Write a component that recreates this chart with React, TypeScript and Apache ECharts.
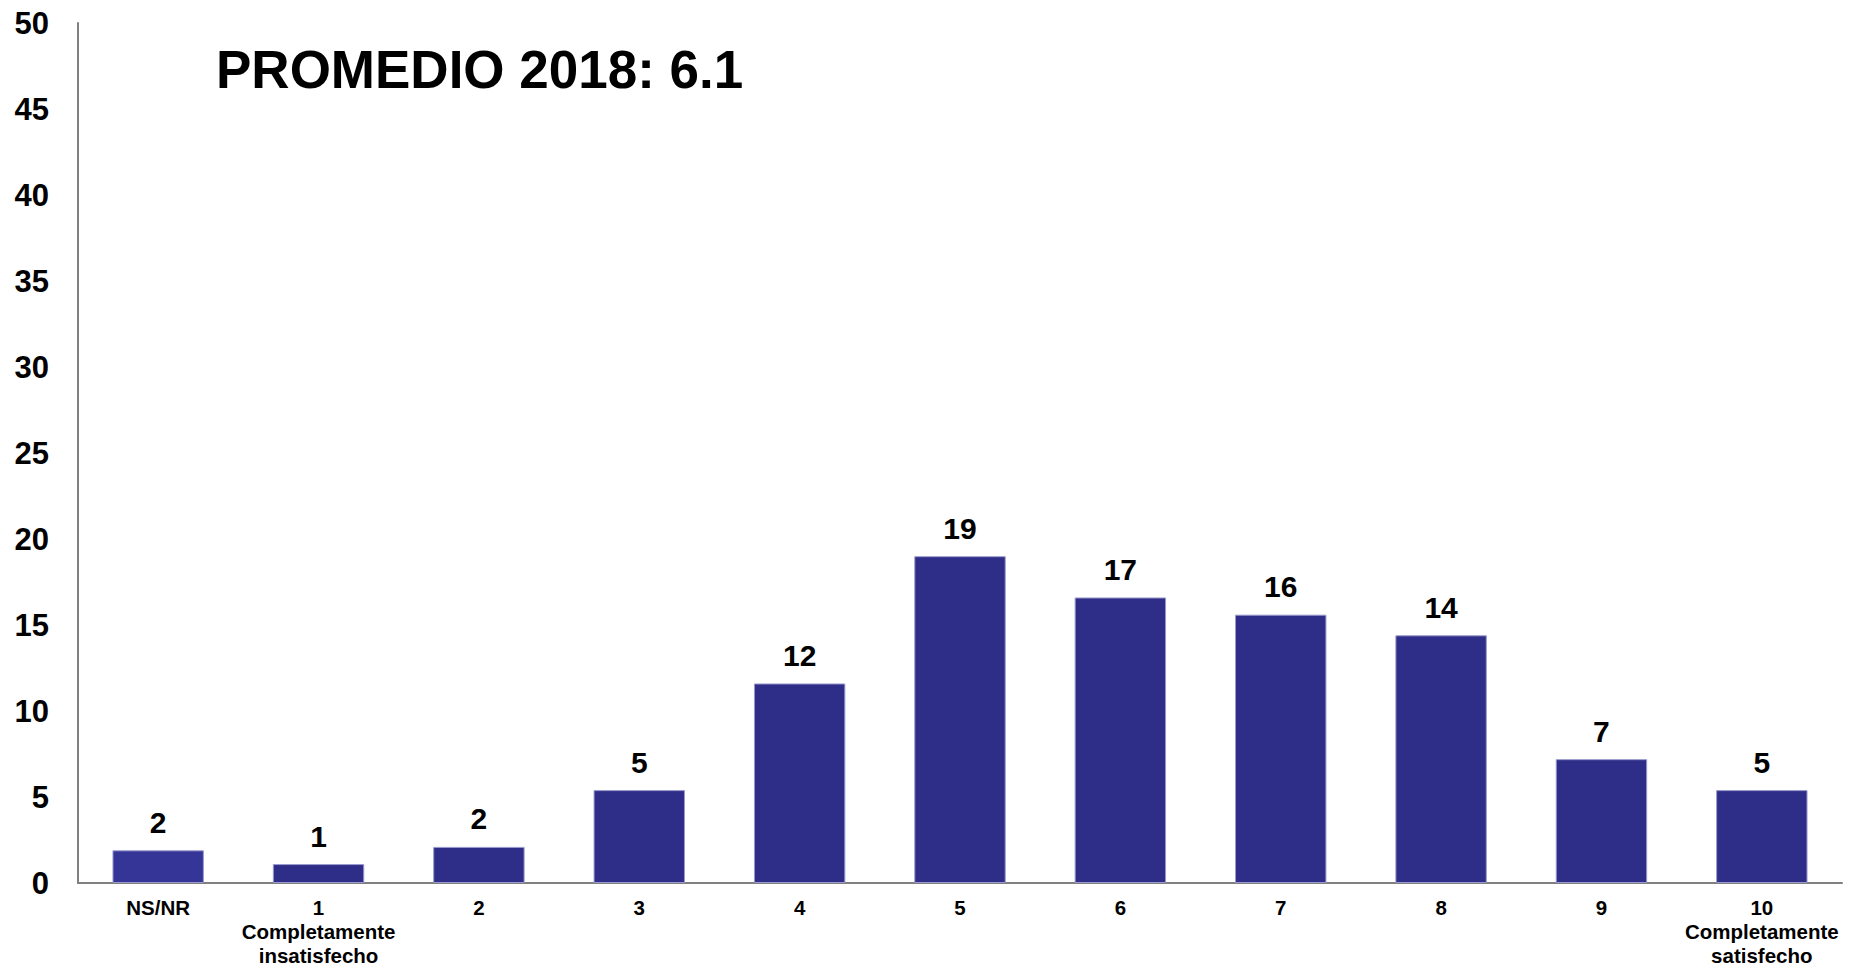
import React, { useEffect, useRef } from "react";
import * as echarts from "echarts";

const categories = [
  "NS/NR",
  "1\nCompletamente\ninsatisfecho",
  "2",
  "3",
  "4",
  "5",
  "6",
  "7",
  "8",
  "9",
  "10\nCompletamente\nsatisfecho",
];
const values = [1.9, 1.1, 2.1, 5.4, 11.6, 19.0, 16.6, 15.6, 14.4, 7.2, 5.4];
const valueLabels = ["2", "1", "2", "5", "12", "19", "17", "16", "14", "7", "5"];
const titleText = "PROMEDIO 2018: 6.1";
const yMin = 0;
const yMax = 50;
const yInterval = 5;

const FONT = "'Liberation Sans', Arial, sans-serif";

export default function App() {
  const ref = useRef<HTMLDivElement>(null);
  useEffect(() => {
    document.body.style.margin = "0";
    if (!ref.current) return;
    const chart = echarts.init(ref.current, undefined, { renderer: "svg" });
    chart.setOption({
      animation: false,
      backgroundColor: "#ffffff",
      textStyle: { fontFamily: FONT },
      title: {
        text: titleText,
        left: 211,
        top: 38,
        textStyle: { fontFamily: FONT, fontSize: 53, fontWeight: "bold", color: "#000" },
      },
      grid: {
        left: 78,
        right: 15,
        top: 23,
        bottom: 85,
        containLabel: false,
        outerBoundsMode: "none",
      },
      xAxis: {
        type: "category",
        data: categories,
        boundaryGap: true,
        axisLine: { show: true, lineStyle: { color: "#808080", width: 2 } },
        axisTick: { show: false },
        axisLabel: {
          interval: 0,
          margin: 12,
          fontFamily: FONT,
          fontSize: 20.5,
          fontWeight: "bold",
          color: "#000",
          lineHeight: 24,
          align: "center",
        },
      },
      yAxis: {
        type: "value",
        min: yMin,
        max: yMax,
        interval: yInterval,
        axisLine: { show: true, lineStyle: { color: "#808080", width: 2 } },
        axisTick: { show: false },
        splitLine: { show: false },
        axisLabel: {
          margin: 29,
          fontFamily: FONT,
          fontSize: 31,
          fontWeight: "bold",
          color: "#000",
        },
      },
      series: [
        {
          type: "bar",
          data: values.map((v, i) => ({
            value: v,
            itemStyle: { color: i === 0 ? "#353598" : "#2E2D88" },
          })),
          barWidth: "57%",
          itemStyle: { borderColor: "#9a9acc", borderWidth: 1 },
          label: {
            show: true,
            position: "top",
            distance: 13,
            formatter: (p: any) => valueLabels[p.dataIndex],
            fontFamily: FONT,
            fontSize: 30,
            fontWeight: "bold",
            color: "#000",
          },
        },
      ],
    });
    return () => chart.dispose();
  }, []);
  return <div ref={ref} style={{ width: 1857, height: 968 }} />;
}
